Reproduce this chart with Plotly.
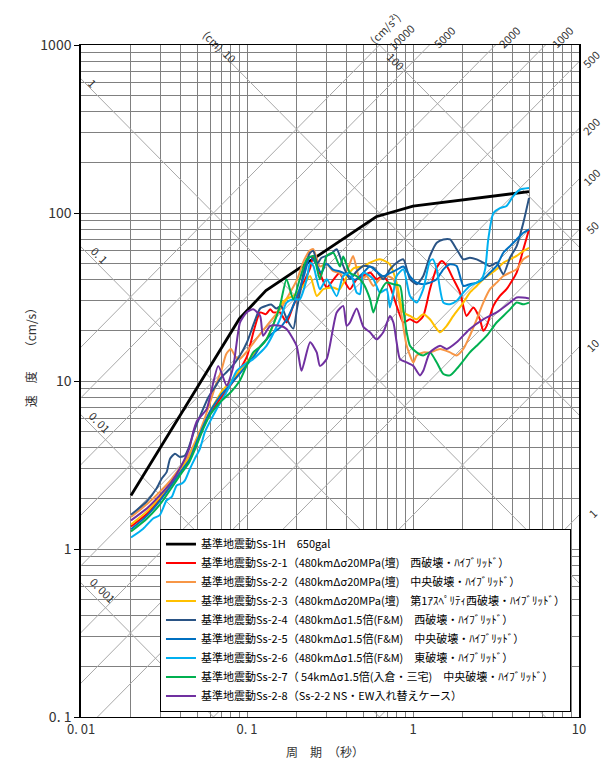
import math
import plotly.graph_objects as go

# ---------------- data (period T [s], pseudo velocity V [cm/s]) ----------------
T_ss1h = [0.02, 0.09, 0.13, 0.60, 1.0, 5.0]
V_ss1h = [2.08, 23.5, 34.5, 95.0, 110.0, 134.0]

T_ss21 = [0.02,0.025,0.03,0.035,0.04,0.045,0.05,0.055,0.06,0.065,0.07,0.08,0.09,0.1,0.11,0.12,0.13,0.138,0.144,0.158,
          0.173,0.19,0.218,0.24,0.251,0.275,0.302,0.331,0.36,0.38,0.417,0.458,0.502,0.551,0.603,0.662,0.726,0.797,0.875,0.959,
          1.052,1.153,1.265,1.39,1.49,1.596,1.75,1.92,2.10,2.31,2.53,2.65,2.78,3.05,3.34,3.66,4.21,4.62,5.0]
V_ss21 = [1.36,1.62,2.0,2.5,3.0,3.5,4.3,5.4,6.4,7.2,8.0,9.5,11.5,14.0,20.0,25.6,25.0,26.7,25.6,25.6,
          22.3,28.0,38.0,47.0,55.5,44.0,36.0,40.0,44.0,40.4,35.2,40.4,42.2,44.2,40.4,42.2,36.8,28.0,22.3,23.3,
          22.3,24.4,35.2,47.3,51.8,48.4,40.4,33.6,24.4,27.4,23.3,19.9,21.3,28.0,32.1,35.2,44.2,60.8,79.8]

T_ss22 = [0.02,0.025,0.03,0.035,0.04,0.045,0.05,0.055,0.06,0.065,0.07,0.075,0.08,0.085,0.09,0.1,0.11,0.12,0.13,0.145,
          0.16,0.18,0.2,0.22,0.24,0.251,0.275,0.3,0.331,0.36,0.38,0.41,0.436,0.479,0.526,0.577,0.632,0.693,0.762,0.835,
          0.916,1.005,1.052,1.153,1.265,1.455,1.671,1.832,2.01,2.20,2.42,2.65,2.91,3.19,3.50,3.84,4.21,4.62,5.0]
V_ss22 = [1.55,1.85,2.2,2.6,3.1,3.7,4.6,5.8,7.5,9.5,11.5,14.5,15.5,14.0,13.5,15.0,17.0,19.0,21.0,24.0,
          27.0,33.0,40.0,52.0,60.0,61.0,48.0,50.0,45.0,44.0,42.0,48.0,55.5,40.4,42.2,36.8,40.4,42.2,40.4,28.0,
          16.2,12.9,14.2,14.8,14.8,15.5,14.8,14.2,15.5,18.6,23.3,29.3,35.2,38.5,42.2,44.2,46.2,53.0,55.5]

T_ss23 = [0.02,0.025,0.03,0.035,0.04,0.045,0.05,0.055,0.06,0.065,0.07,0.08,0.09,0.1,0.11,0.12,0.131,0.145,0.158,0.175,
          0.19,0.218,0.24,0.263,0.288,0.33,0.36,0.4,0.44,0.5,0.551,0.632,0.726,0.797,0.875,0.959,1.052,1.153,1.265,1.39,
          1.455,1.596,1.75,2.01,2.20,2.42,2.65,2.91,3.19,3.50,3.84,4.21,4.62,5.0]
V_ss23 = [1.40,1.68,2.05,2.5,3.0,3.5,4.5,5.5,6.6,7.6,8.6,10.0,11.5,13.0,14.5,16.0,17.7,22.0,28.0,31.0,
          32.1,36.8,42.2,32.1,35.2,36.0,35.0,42.0,47.0,48.0,50.6,53.0,49.5,38.5,25.6,24.4,23.3,25.0,23.3,20.4,
          19.5,21.3,24.4,29.3,33.6,36.8,40.4,43.2,46.2,50.6,53.0,55.5,59.4,62.1]

T_ss24 = [0.02,0.0248,0.0285,0.0306,0.0328,0.0344,0.0368,0.0395,0.0423,0.0443,0.0464,0.0486,0.0533,0.0585,0.0641,
          0.07,0.08,0.09,0.1,0.11,0.12,0.13,0.14,0.15,0.16,0.175,0.19,0.2,0.21,0.22,0.24,0.251,0.265,0.28,0.3,
          0.32,0.347,0.38,0.417,0.458,0.502,0.577,0.662,0.726,0.797,0.875,0.959,1.052,1.153,1.265,1.39,1.524,1.671,
          1.832,2.01,2.20,2.42,2.65,2.91,3.19,3.50,3.84,4.21,4.62,5.0]
V_ss24 = [1.6,1.91,2.29,2.62,2.87,3.45,3.69,3.53,3.6,3.95,4.53,5.2,6.5,8.0,9.2,
          10.5,12.0,14.0,17.0,22.0,27.0,28.0,28.5,27.0,28.0,23.0,20.5,27.0,35.0,45.0,58.0,59.4,50.0,54.0,55.5,
          57.0,60.8,48.4,40.4,45.0,48.4,47.3,40.4,46.2,50.6,53.0,40.4,37.7,42.2,55.5,66.5,69.6,69.6,
          60.8,53.0,54.2,53.0,50.6,48.4,50.6,43.2,54.2,63.5,87.5,123.0]

T_ss25 = [0.02,0.025,0.03,0.035,0.04,0.045,0.05,0.055,0.06,0.065,0.07,0.08,0.09,0.1,0.11,0.12,0.13,0.14,0.16,0.18,
          0.2,0.22,0.24,0.26,0.28,0.3,0.33,0.36,0.4,0.45,0.5,0.55,0.6,0.66,0.73,0.8,0.875,0.959,1.052,1.153,
          1.265,1.39,1.524,1.671,1.832,2.01,2.20,2.42,2.65,2.91,3.19,3.50,3.84,4.21,4.62,5.0]
V_ss25 = [1.31,1.58,1.95,2.4,2.9,3.4,4.4,5.5,6.6,7.5,8.3,9.6,11.0,12.5,14.0,16.0,17.5,19.0,21.0,25.0,
          32.0,42.0,55.0,50.0,44.0,50.0,46.0,45.0,43.0,40.0,44.0,48.0,45.0,42.0,44.0,46.0,48.0,42.0,38.5,37.7,
          38.5,40.4,46.2,49.5,48.4,36.8,37.7,38.5,40.4,44.2,48.4,58.0,63.5,69.6,76.2,80.0]

T_ss26 = [0.02,0.0237,0.0272,0.0298,0.0328,0.0352,0.0377,0.0404,0.0423,0.0453,0.0485,0.052,0.0559,0.0672,0.0772,
          0.0867,0.0995,0.109,0.131,0.158,0.173,0.19,0.208,0.229,0.24,0.251,0.275,0.302,0.347,0.38,
          0.418,0.458,0.479,0.502,0.577,0.632,0.693,0.726,0.762,0.797,0.875,0.959,1.052,1.153,1.265,
          1.32,1.39,1.524,1.671,1.832,2.01,2.20,2.42,2.59,2.72,2.84,3.05,3.34,3.66,4.02,4.42,5.0]
V_ss26 = [1.17,1.32,1.52,1.59,1.95,2.04,2.39,2.45,2.56,3.0,3.45,3.95,5.0,7.1,9.0,
          11.5,12.8,13.5,16.2,23.3,29.3,30.7,30.7,40.4,50.6,48.4,35.2,40.4,32.0,42.2,
          44.2,33.6,32.9,44.2,40.4,33.6,35.2,27.4,33.6,42.2,46.2,32.1,29.3,35.2,51.8,
          53.0,46.2,29.3,28.6,30.0,33.6,36.8,38.5,40.4,46.2,69.6,100.0,107.0,110.0,126.0,138.0,141.0]

T_ss27 = [0.02,0.025,0.03,0.035,0.04,0.045,0.05,0.055,0.06,0.065,0.07,0.08,0.0908,0.1,0.109,0.12,0.131,0.145,0.158,0.173,
          0.19,0.208,0.229,0.251,0.275,0.302,0.331,0.363,0.38,0.417,0.458,0.502,0.551,0.577,0.632,0.693,0.762,0.835,0.875,0.916,
          0.959,1.052,1.153,1.265,1.39,1.524,1.671,1.832,2.01,2.20,2.42,2.78,3.19,3.50,3.84,4.21,4.62,5.0]
V_ss27 = [1.27,1.52,1.85,2.3,2.8,3.3,4.2,5.3,6.3,7.0,7.6,8.6,10.1,12.5,14.8,16.0,17.7,22.0,28.0,40.4,
          30.7,40.4,53.0,55.5,40.4,55.5,58.0,48.0,55.0,44.0,42.0,38.0,30.7,25.6,33.6,38.5,37.7,36.8,26.7,19.5,
          16.2,14.8,14.2,14.8,12.9,11.0,10.8,11.8,13.2,14.8,16.2,18.6,22.3,24.4,26.7,29.3,28.6,29.3]

T_ss28 = [0.02,0.025,0.03,0.035,0.04,0.045,0.0475,0.05,0.0571,0.0671,0.0755,0.0828,0.0908,0.0995,0.109,
          0.12,0.125,0.138,0.158,0.173,0.199,0.213,0.24,0.263,0.275,0.302,0.347,0.38,0.398,0.417,
          0.458,0.502,0.551,0.603,0.662,0.726,0.762,0.797,0.835,0.916,1.005,1.102,1.153,1.265,1.455,
          1.596,1.832,2.20,2.65,3.19,3.84,4.21,5.0]
V_ss28 = [1.48,1.75,2.1,2.5,3.1,4.0,5.0,5.8,6.8,12.3,9.4,12.3,22.3,25.6,26.7,
          24.4,18.6,21.3,21.3,20.4,16.2,11.5,17.0,14.8,12.3,13.5,25.6,28.0,21.3,22.3,
          27.0,21.0,19.5,17.7,19.5,24.4,22.3,17.0,13.5,12.9,12.3,10.8,11.5,14.8,16.2,
          15.5,17.0,20.4,23.3,25.6,29.3,31.4,31.0]

names = [
    "基準地震動Ss-1H　650gal",
    "基準地震動Ss-2-1（480kmΔσ20MPa(壇)　西破壊・ﾊｲﾌﾞﾘｯﾄﾞ）",
    "基準地震動Ss-2-2（480kmΔσ20MPa(壇)　中央破壊・ﾊｲﾌﾞﾘｯﾄﾞ）",
    "基準地震動Ss-2-3（480kmΔσ20MPa(壇)　第1ｱｽﾍﾟﾘﾃｨ西破壊・ﾊｲﾌﾞﾘｯﾄﾞ）",
    "基準地震動Ss-2-4（480kmΔσ1.5倍(F&M)　西破壊・ﾊｲﾌﾞﾘｯﾄﾞ）",
    "基準地震動Ss-2-5（480kmΔσ1.5倍(F&M)　中央破壊・ﾊｲﾌﾞﾘｯﾄﾞ）",
    "基準地震動Ss-2-6（480kmΔσ1.5倍(F&M)　東破壊・ﾊｲﾌﾞﾘｯﾄﾞ）",
    "基準地震動Ss-2-7（ 54kmΔσ1.5倍(入倉・三宅)　中央破壊・ﾊｲﾌﾞﾘｯﾄﾞ）",
    "基準地震動Ss-2-8（Ss-2-2 NS・EW入れ替えケース）",
]
colors = ["#000000", "#FF0000", "#F79646", "#FFC000", "#2A5485", "#0070C0", "#00B0F0", "#00B050", "#7030A0"]
widths = [2.8, 2.0, 2.0, 2.0, 2.0, 2.0, 2.0, 2.0, 2.0]
periods = [T_ss1h, T_ss21, T_ss22, T_ss23, T_ss24, T_ss25, T_ss26, T_ss27, T_ss28]
velocities = [V_ss1h, V_ss21, V_ss22, V_ss23, V_ss24, V_ss25, V_ss26, V_ss27, V_ss28]

# tripartite reference lines
disp_cm = [0.001, 0.01, 0.1, 1, 10, 100]
acc_gal = [1, 10, 50, 100, 200, 500, 1000, 2000, 5000, 10000]

x_ticks = [0.01, 0.1, 1, 10]
x_ticktext = ["0. 01", "0. 1", "1", "10"]
y_ticks = [0.1, 1, 10, 100, 1000]
y_ticktext = ["0. 1", "1", "10", "100", "1000"]

FONT = "Noto Sans CJK JP, Noto Sans, sans-serif"
GRID = "#808080"
DIAG = "#a8a8a8"
TXT = "#333333"
TWO_PI = 2 * math.pi
X_LOG = (-2.0, 1.0)
Y_LOG = (-1.0, 3.0)


def px(logT):
    return (logT - X_LOG[0]) / (X_LOG[1] - X_LOG[0])


def py(logV):
    return (logV - Y_LOG[0]) / (Y_LOG[1] - Y_LOG[0])


fig = go.Figure()
T_span = [0.001, 100.0]
for d in disp_cm:
    fig.add_trace(go.Scatter(x=T_span, y=[TWO_PI * d / t for t in T_span], mode="lines",
                             line=dict(color=DIAG, width=1), hoverinfo="skip", showlegend=False))
for a in acc_gal:
    fig.add_trace(go.Scatter(x=T_span, y=[a * t / TWO_PI for t in T_span], mode="lines",
                             line=dict(color=DIAG, width=1), hoverinfo="skip", showlegend=False))

for i, (name, T, V, c, w) in enumerate(zip(names, periods, velocities, colors, widths)):
    shape = "linear" if i == 0 else "spline"
    fig.add_trace(go.Scatter(x=T, y=V, mode="lines", name=name,
                             line=dict(color=c, width=w, shape=shape, smoothing=0.6)))

minor_x = [k * 10 ** e for e in (-2, -1, 0) for k in range(2, 10)]
minor_y = [k * 10 ** e for e in (-1, 0, 1, 2) for k in range(2, 10)]

fig.update_xaxes(type="log", range=list(X_LOG), tickmode="array", tickvals=x_ticks, ticktext=x_ticktext,
                 ticks="", showgrid=True, gridcolor=GRID, gridwidth=1,
                 minor=dict(tickmode="array", tickvals=minor_x, showgrid=True, gridcolor=GRID, gridwidth=1, ticks=""),
                 showline=True, linecolor="#000000", linewidth=1.2, mirror=True, zeroline=False,
                 tickfont=dict(family=FONT, size=13, color=TXT))
fig.update_yaxes(type="log", range=list(Y_LOG), tickmode="array", tickvals=y_ticks, ticktext=y_ticktext,
                 ticks="outside", ticklen=5, tickcolor="#000000", showgrid=True, gridcolor=GRID, gridwidth=1,
                 minor=dict(tickmode="array", tickvals=minor_y, showgrid=True, gridcolor=GRID, gridwidth=1, ticks=""),
                 showline=True, linecolor="#000000", linewidth=1.5, mirror=True, zeroline=False,
                 tickfont=dict(family=FONT, size=14, color=TXT))

ann = []
lab_font = dict(family=FONT, size=11, color=TXT)
log2pi = math.log10(TWO_PI)


def label(logT, logV, txt, angle, font=lab_font):
    ann.append(dict(x=px(logT), y=py(logV), xref="paper", yref="paper", text=txt, textangle=angle,
                    showarrow=False, xanchor="center", yanchor="middle", font=font))


# displacement labels on the left edge (above the descending lines)
for d, txt, lx, off in [(1, "1", -1.928, 0.05), (0.1, "0. 1", -1.886, 0.066),
                        (0.01, "0. 01", -1.886, 0.072), (0.001, "0. 001", -1.867, 0.09)]:
    label(lx, log2pi + math.log10(d) - lx + off, txt, 45)
# displacement labels at the top
for d, txt, lx, off in [(10, "10", -1.102, 0.035), (100, "100", -0.102, 0.005)]:
    label(lx, log2pi + math.log10(d) - lx + off, txt, 45)
label(-1.199, 3.024, "(cm)", 45)
# acceleration labels on top
for txt, lx in [("10000", -0.072), ("5000", 0.187), ("2000", 0.578), ("1000", 0.898)]:
    label(lx, 3.048, txt, -45)
label(-0.169, 3.101, "(cm/s²)", -45)
# acceleration labels on the right edge
for a, txt in [(500, "500"), (200, "200"), (100, "100"), (50, "50"), (10, "10"), (1, "1")]:
    lx = 1.072 if len(txt) == 3 else 1.08
    label(lx, math.log10(a) + 1 - log2pi + 0.014, txt, -45)
# axis titles
ann.append(dict(x=0.49, y=-0.052, xref="paper", yref="paper", text="周　期　（秒）", showarrow=False,
                xanchor="center", yanchor="middle", font=dict(family=FONT, size=12, color=TXT)))
ann.append(dict(x=-0.102, y=0.54, xref="paper", yref="paper", text="速　度　　（cm/s）", textangle=-90,
                xanchor="center", yanchor="middle", showarrow=False, font=dict(family=FONT, size=12, color=TXT)))

# the page body adds an 8 px margin around the figure: size the figure to fit the 612x769 window
fig.update_layout(
    width=596, height=753, autosize=False,
    margin=dict(l=73, r=25, t=37, b=44),
    paper_bgcolor="white", plot_bgcolor="white",
    font=dict(family=FONT, color=TXT),
    showlegend=True,
    legend=dict(x=0.1586, y=0.008, xanchor="left", yanchor="bottom", bgcolor="white",
                bordercolor="#000000", borderwidth=1, font=dict(family=FONT, size=11, color="#000000"),
                tracegroupgap=0),
    annotations=ann,
)

fig.write_html("out.html")
